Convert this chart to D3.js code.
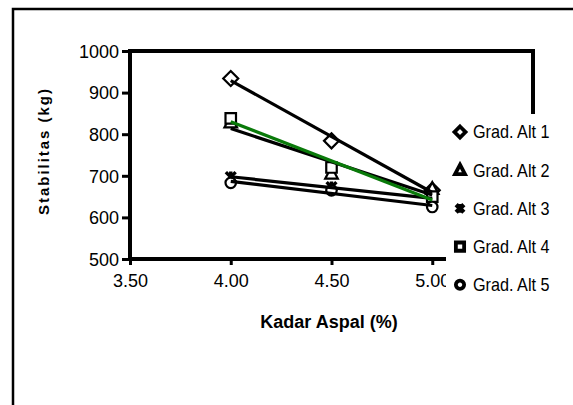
<!DOCTYPE html>
<html>
<head>
<meta charset="utf-8">
<script src="https://cdn.jsdelivr.net/npm/d3@7"></script>
<style>
  body { margin: 0; background: #fff; }
  text { font-family: "Liberation Sans", Arial, sans-serif; }
</style>
</head>
<body>
<script>
// data
const kadar = [4.0, 4.5, 5.0];
const seriesNames = ["Grad. Alt 1", "Grad. Alt 2", "Grad. Alt 3", "Grad. Alt 4", "Grad. Alt 5"];
const alt1 = [934, 784, 665];
const alt2 = [828, 705, 668];
const alt3 = [697, 673, 645];
const alt4 = [838, 720, 650];
const alt5 = [683, 665, 625];
const xTicks = [3.5, 4.0, 4.5, 5.0];
const yTicks = [500, 600, 700, 800, 900, 1000];
const yTitle = "Stabilitas (kg)";
const xTitle = "Kadar Aspal (%)";

const allSeries = [alt1, alt2, alt3, alt4, alt5];
const markers = ["diamond", "triangle", "cross", "square", "circle"];
const lineColors = ["#000", "#000", "#000", "#0a7a0a", "#000"];

const W = 573, H = 405;
const svg = d3.select("body").append("svg")
    .attr("width", W).attr("height", H);

// outer chart border (cut off on the right and bottom)
svg.append("rect")
    .attr("x", 13).attr("y", 9)
    .attr("width", W + 20).attr("height", H + 20)
    .attr("fill", "#fff").attr("stroke", "#000").attr("stroke-width", 2.5);

const x = d3.scaleLinear().domain([3.5, 5.5]).range([130, 533]);
const y = d3.scaleLinear().domain([500, 1000]).range([259, 51]);

// marker shapes
function shape(type, s) {
    switch (type) {
        case "diamond": return `M0,${-s}L${s},0L0,${s}L${-s},0Z`;
        case "triangle": return `M0,${-s}L${s * 0.9},${s * 0.7}L${-s * 0.9},${s * 0.7}Z`;
        case "square": return `M${-s * 0.75},${-s * 0.75}H${s * 0.75}V${s * 0.75}H${-s * 0.75}Z`;
        case "cross": return `M${-s * 0.7},${-s * 0.7}L${s * 0.7},${s * 0.7}M${s * 0.7},${-s * 0.7}L${-s * 0.7},${s * 0.7}M0,${-s * 0.8}V${s * 0.8}`;
        default: return d3.arc()({innerRadius: 0, outerRadius: s * 0.75, startAngle: 0, endAngle: 2 * Math.PI});
    }
}

// axes
const xAxis = d3.axisBottom(x).tickValues(xTicks).tickFormat(d3.format(".2f")).tickSize(6).tickSizeOuter(0);
const yAxis = d3.axisLeft(y).tickValues(yTicks).tickFormat(d3.format("d")).tickSize(8).tickSizeOuter(0);

const gx = svg.append("g").attr("transform", `translate(0,${y(500)})`).call(xAxis);
const gy = svg.append("g").attr("transform", `translate(${x(3.5)},0)`).call(yAxis);
[gx, gy].forEach(g => {
    g.select(".domain").remove();
    g.selectAll(".tick line").attr("stroke", "#000").attr("stroke-width", 3);
    g.selectAll(".tick text").attr("fill", "#000").attr("font-size", 18).attr("font-family", "Liberation Sans, Arial, sans-serif");
});
gx.selectAll(".tick text").attr("dy", "1.05em");
gy.selectAll(".tick text").attr("x", -11).attr("dy", "0.35em");

// plot area frame
svg.append("rect")
    .attr("x", x(3.5)).attr("y", y(1000))
    .attr("width", x(5.5) - x(3.5)).attr("height", y(500) - y(1000))
    .attr("fill", "none").attr("stroke", "#000").attr("stroke-width", 4);

// markers
allSeries.forEach((vals, i) => {
    svg.append("g").selectAll("path")
        .data(vals)
        .join("path")
        .attr("transform", (d, j) => `translate(${x(kadar[j])},${y(d)})`)
        .attr("d", shape(markers[i], markers[i] === "diamond" ? 7.5 : 7))
        .attr("fill", markers[i] === "cross" ? "none" : "#fff")
        .attr("stroke", "#000")
        .attr("stroke-width", markers[i] === "cross" ? 3.4 : 2.2);
});

// linear trend lines
allSeries.forEach((vals, i) => {
    const mx = d3.mean(kadar), my = d3.mean(vals);
    const b = d3.sum(kadar, (k, j) => (k - mx) * (vals[j] - my)) / d3.sum(kadar, k => (k - mx) * (k - mx));
    const a = my - b * mx;
    const ends = [kadar[0], kadar[kadar.length - 1]];
    svg.append("line")
        .attr("x1", x(ends[0])).attr("y1", y(a + b * ends[0]))
        .attr("x2", x(ends[1])).attr("y2", y(a + b * ends[1]))
        .attr("stroke", lineColors[i])
        .attr("stroke-width", 3.2);
});

// legend box (covers the end of the plot area)
svg.append("rect")
    .attr("x", 446).attr("y", 114)
    .attr("width", 127).attr("height", 190)
    .attr("fill", "#fff");

const legend = svg.append("g").selectAll("g")
    .data(seriesNames)
    .join("g")
    .attr("transform", (d, i) => `translate(460,${132 + i * 38.2})`);

legend.append("path")
    .attr("d", (d, i) => shape(markers[i], 5.5))
    .attr("fill", (d, i) => markers[i] === "cross" ? "none" : "#fff")
    .attr("stroke", "#000")
    .attr("stroke-width", (d, i) => markers[i] === "cross" ? 4.5 : 3.8);

legend.append("text")
    .attr("transform", "translate(13,0) scale(0.9,1)")
    .attr("dy", "0.35em")
    .attr("font-size", 18)
    .attr("fill", "#000")
    .text(d => d);

// x axis title
svg.append("text")
    .attr("x", 329).attr("y", 328)
    .attr("text-anchor", "middle")
    .attr("font-size", 18).attr("font-weight", "bold")
    .text(xTitle);

// y axis title, squeezed into the narrow strip left of the tick labels
svg.append("text")
    .attr("transform", "translate(49,152) rotate(-90)")
    .attr("text-anchor", "middle")
    .attr("font-size", 15).attr("font-weight", "bold")
    .attr("textLength", 126)
    .attr("lengthAdjust", "spacing")
    .text(yTitle);
</script>
</body>
</html>
